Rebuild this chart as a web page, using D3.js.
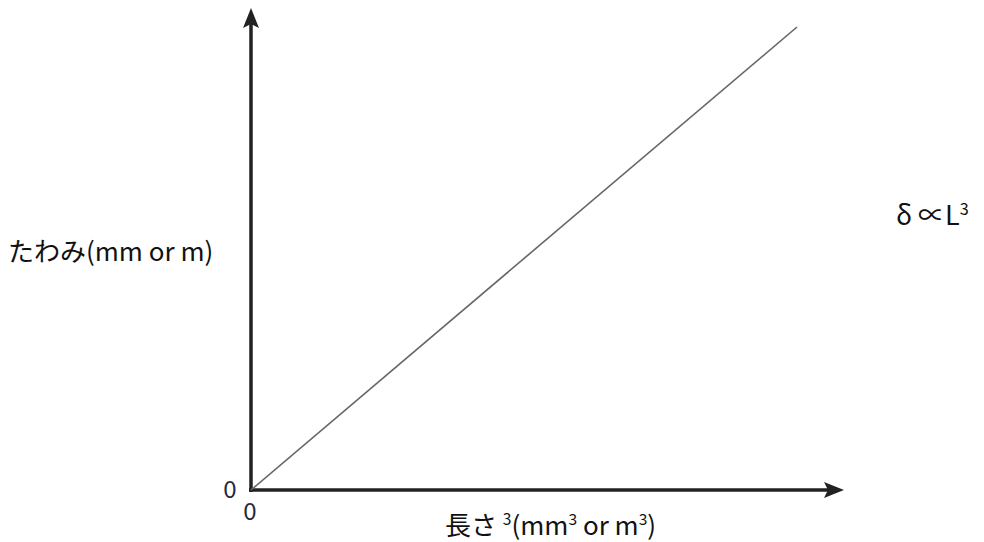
<!DOCTYPE html>
<html>
<head>
<meta charset="utf-8">
<script src="https://cdn.jsdelivr.net/npm/d3@7"></script>
<style>
  html, body { margin: 0; padding: 0; background: #fff; }
  svg text { font-family: "Noto Sans CJK JP", "Noto Sans", sans-serif; fill: #111; }
</style>
</head>
<body>
<div id="vis"></div>
<script>
// line of deflection vs length cubed (proportional, no numeric ticks)
var lineX = [0, 1];
var lineY = [0, 1];
var originLabels = ['0', '0'];
var yTitle = 'たわみ(mm or m)';
var xTitleParts = [['長さ ', false], ['3', true], ['(mm', false], ['3', true], [' or m', false], ['3', true], [')', false]];
var lawParts = [['δ ∝L', false], ['3', true]];

var width = 984;
var height = 542;

var svg = d3.select('#vis').append('svg')
    .attr('width', width)
    .attr('height', height);

// scales: the unit square maps to the drawn diagonal
var x = d3.scaleLinear().domain([0, 1]).range([251, 797]);
var y = d3.scaleLinear().domain([0, 1]).range([490, 27]);

// axis extents (in data units) to reach the arrow tips
var xMax = x.invert(844);
var yMax = y.invert(8);

var axisColor = '#222';

// x axis
svg.append('line')
    .attr('x1', x(0) - 2).attr('y1', y(0))
    .attr('x2', x(xMax) - 12).attr('y2', y(0))
    .attr('stroke', axisColor)
    .attr('stroke-width', 3.5);

svg.append('path')
    .attr('d', 'M' + x(xMax) + ',' + y(0) +
        'L' + (x(xMax) - 20) + ',' + (y(0) - 8) +
        'L' + (x(xMax) - 16) + ',' + y(0) +
        'L' + (x(xMax) - 20) + ',' + (y(0) + 8) + 'Z')
    .attr('fill', axisColor);

// y axis
svg.append('line')
    .attr('x1', x(0)).attr('y1', y(0) + 2)
    .attr('x2', x(0)).attr('y2', y(yMax) + 12)
    .attr('stroke', axisColor)
    .attr('stroke-width', 3.5);

svg.append('path')
    .attr('d', 'M' + x(0) + ',' + y(yMax) +
        'L' + (x(0) - 8) + ',' + (y(yMax) + 20) +
        'L' + x(0) + ',' + (y(yMax) + 16) +
        'L' + (x(0) + 8) + ',' + (y(yMax) + 20) + 'Z')
    .attr('fill', axisColor);

// the proportional line
var pts = lineX.map(function (d, i) { return [d, lineY[i]]; });
svg.append('path')
    .datum(pts)
    .attr('fill', 'none')
    .attr('stroke', '#666')
    .attr('stroke-width', 1.6)
    .attr('d', d3.line()
        .x(function (d) { return x(d[0]); })
        .y(function (d) { return y(d[1]); }));

// origin labels
svg.append('text')
    .attr('x', x(0) - 21).attr('y', y(0) + 8)
    .attr('text-anchor', 'middle')
    .style('font-size', '24px')
    .style('fill', '#1d2b45')
    .text(originLabels[0]);

svg.append('text')
    .attr('x', x(0) - 1).attr('y', y(0) + 30)
    .attr('text-anchor', 'middle')
    .style('font-size', '24px')
    .style('fill', '#1d2b45')
    .text(originLabels[1]);

// y title
svg.append('text')
    .attr('x', 8).attr('y', 261)
    .style('font-size', '26px')
    .text(yTitle);

// helper for text with superscripts
function richText(parts, tx, ty, size) {
    var t = svg.append('text')
        .attr('x', tx).attr('y', ty)
        .style('font-size', size + 'px');
    var raised = false;
    var lift = size * 0.38;
    parts.forEach(function (p) {
        var dy = 0;
        if (p[1] && !raised) dy = -lift;
        if (!p[1] && raised) dy = lift;
        raised = p[1];
        t.append('tspan')
            .attr('dy', dy)
            .style('font-size', (p[1] ? size * 0.6 : size) + 'px')
            .text(p[0]);
    });
    return t;
}

richText(xTitleParts, 445, 535, 26);
richText(lawParts, 896, 225, 27);
</script>
</body>
</html>
